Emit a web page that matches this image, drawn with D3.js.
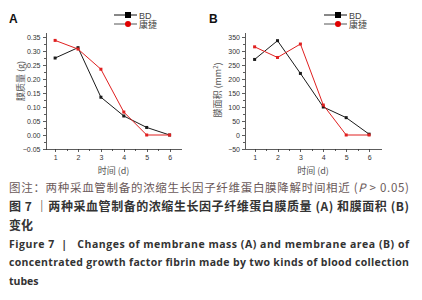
<!DOCTYPE html>
<meta charset="utf-8">
<style>
    body { margin: 0; background: #fff; }
    .axis path, .axis line { stroke: #333; stroke-width: 0.8; shape-rendering: crispEdges; }
    .axis text { font: 7px Arial, "Liberation Sans", sans-serif; fill: #333; }
</style>
<body>
<script src="https://d3js.org/d3.v7.min.js"></script>
<script>
// data
var days = [1, 2, 3, 4, 5, 6];
var massBD = [0.275, 0.312, 0.135, 0.068, 0.027, 0.0];
var massKJ = [0.338, 0.307, 0.235, 0.082, 0.0, 0.0];
var areaBD = [270, 337, 220, 100, 62, 3];
var areaKJ = [315, 277, 325, 107, 0, 0];
var massTicks = [-0.05, 0, 0.05, 0.10, 0.15, 0.20, 0.25, 0.30, 0.35];
var areaTicks = [-50, 0, 50, 100, 150, 200, 250, 300, 350];
var seriesNames = ["BD", "康捷"];

var svg = d3.select("body").append("svg")
    .attr("width", 422).attr("height", 300);

function panel(opt) {
    var x = d3.scaleLinear().domain([0.58, 6.52]).range([opt.left, opt.left + 136]);
    var y = d3.scaleLinear().domain(opt.ydom).range([149, 32]);
    var g = svg.append("g");

    // minor ticks
    var xMinor = d3.range(1.5, 6.5, 1);
    g.append("g").attr("class", "axis")
        .attr("transform", "translate(0,149)")
        .call(d3.axisBottom(x).tickValues(xMinor).tickSize(2).tickFormat(""))
        .select(".domain").remove();
    var step = opt.ticks[1] - opt.ticks[0];
    var yMinor = opt.ticks.map(function (t) { return t + step / 2; })
        .filter(function (v) { return v <= opt.ydom[1]; });
    g.append("g").attr("class", "axis")
        .attr("transform", "translate(" + opt.left + ",0)")
        .call(d3.axisLeft(y).tickValues(yMinor).tickSize(2).tickFormat(""))
        .select(".domain").remove();

    g.append("g").attr("class", "axis")
        .attr("transform", "translate(0,149)")
        .call(d3.axisBottom(x).tickValues(days).tickSize(3).tickSizeOuter(0).tickPadding(3)
            .tickFormat(d3.format("d")));
    g.append("g").attr("class", "axis")
        .attr("transform", "translate(" + opt.left + ",0)")
        .call(d3.axisLeft(y).tickValues(opt.ticks).tickSize(3).tickSizeOuter(0).tickPadding(2)
            .tickFormat(opt.fmt));

    var line = d3.line().x(function (d, i) { return x(days[i]); }).y(function (d) { return y(d); });
    var series = [{ v: opt.bd, c: "#1a1a1a" }, { v: opt.kj, c: "#e02020" }];
    series.forEach(function (s) {
        g.append("path").datum(s.v).attr("d", line)
            .attr("fill", "none").attr("stroke", s.c).attr("stroke-width", 1);
        g.selectAll(null).data(s.v).enter().append("rect")
            .attr("x", function (d, i) { return x(days[i]) - 1.5; })
            .attr("y", function (d) { return y(d) - 1.5; })
            .attr("width", 3).attr("height", 3).attr("fill", s.c);
    });

    // legend
    var lg = g.append("g").attr("transform", "translate(" + opt.legX + ",15)");
    seriesNames.forEach(function (n, i) {
        var row = lg.append("g").attr("transform", "translate(0," + i * 9 + ")");
        row.append("line").attr("x1", 0).attr("x2", 23).attr("stroke", i ? "#555" : "#111").attr("stroke-width", 1);
        if (i === 0) {
            row.append("rect").attr("x", 11).attr("y", -3).attr("width", 6).attr("height", 6).attr("fill", "#000");
        } else {
            row.append("circle").attr("cx", 14).attr("cy", 0).attr("r", 3).attr("fill", "#e00000");
        }
        row.append("text").attr("x", 25).attr("y", 3.5)
            .attr("font-family", "Arial, 'Noto Sans CJK SC', sans-serif").attr("font-size", 9)
            .attr("fill", "#444").text(n);
    });

    // panel letter
    g.append("text").attr("x", opt.letterX).attr("y", 23)
        .attr("font-family", "Arial, sans-serif").attr("font-weight", "bold").attr("font-size", 12)
        .attr("fill", "#111").text(opt.letter);

    // axis titles
    g.append("text").attr("x", opt.left + 68).attr("y", 174)
        .attr("text-anchor", "middle").attr("font-family", "'Noto Sans CJK SC', sans-serif")
        .attr("font-size", 9).attr("fill", "#555").text("时间 (d)");
    var yt = g.append("text")
        .attr("transform", "translate(" + opt.ylabX + "," + opt.ylabY + ") rotate(-90)")
        .attr("text-anchor", "middle").attr("font-family", "'Noto Sans CJK SC', sans-serif")
        .attr("font-size", 9).attr("fill", "#555");
    yt.text(opt.ytitle);
    if (opt.sup) {
        yt.append("tspan").attr("dy", -3).attr("font-size", 6).text("2");
        yt.append("tspan").attr("dy", 3).text(")");
    }
}

panel({ left: 45.5, ydom: [-0.05, 0.368], ticks: massTicks, fmt: d3.format(".2f"),
    bd: massBD, kj: massKJ, legX: 114, letter: "A", letterX: 9,
    ylabX: 24, ylabY: 81, ytitle: "膜质量 (g)" });
panel({ left: 245, ydom: [-50, 368], ticks: areaTicks, fmt: d3.format("d"),
    bd: areaBD, kj: areaKJ, legX: 324, letter: "B", letterX: 209,
    ylabX: 221, ylabY: 90, ytitle: "膜面积 (mm", sup: true });

// caption
var cap = svg.append("g").attr("font-family", "'Noto Sans CJK SC', 'Open Sans', sans-serif");
var l1 = cap.append("text").attr("x", 9).attr("y", 192).attr("font-size", 11.5).attr("fill", "#6b5a5a")
    .attr("textLength", 400).attr("lengthAdjust", "spacing");
l1.append("tspan").text("图注：两种采血管制备的浓缩生长因子纤维蛋白膜降解时间相近 (");
l1.append("tspan").attr("font-style", "italic").text("P");
l1.append("tspan").text(" > 0.05)");
cap.append("text").attr("x", 9).attr("y", 211).attr("font-size", 12).attr("font-weight", "bold").attr("fill", "#333")
    .attr("textLength", 400).attr("lengthAdjust", "spacing")
    .text("图 7 ｜两种采血管制备的浓缩生长因子纤维蛋白膜质量 (A) 和膜面积 (B)");
cap.append("text").attr("x", 9).attr("y", 230).attr("font-size", 12).attr("font-weight", "bold").attr("fill", "#333")
    .text("变化");
var en = ["Figure 7\u00a0\u00a0|\u00a0\u00a0\u00a0Changes of membrane mass (A) and membrane area (B) of",
    "concentrated growth factor fibrin made by two kinds of blood collection",
    "tubes"];
en.forEach(function (t, i) {
    var tx = cap.append("text").attr("x", 9).attr("y", 248 + i * 18.3)
        .attr("font-family", "'Open Sans', 'DejaVu Sans', sans-serif")
        .attr("font-size", 10.5).attr("font-weight", "bold").attr("fill", "#333").text(t);
    if (i < 2) tx.attr("textLength", 400).attr("lengthAdjust", "spacing");
});
</script>
</body>
